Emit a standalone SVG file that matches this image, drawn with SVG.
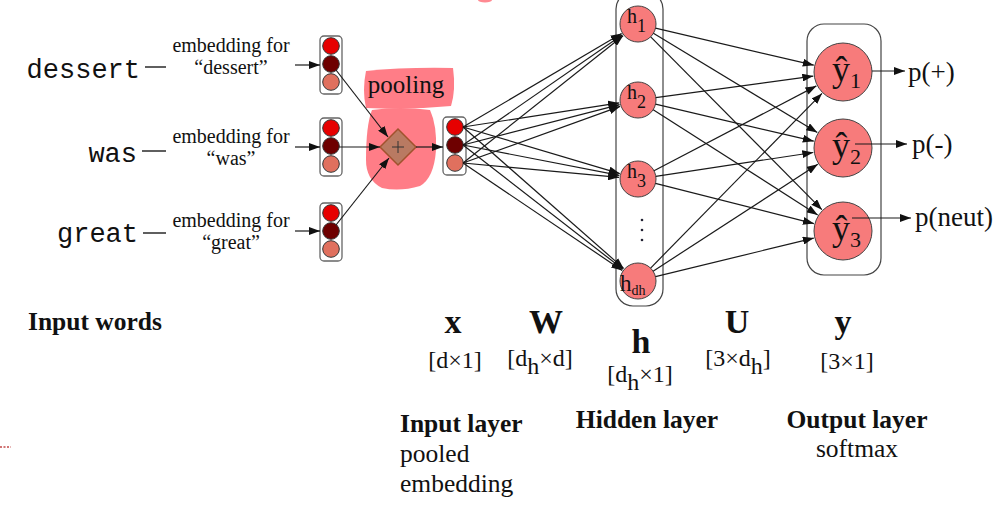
<svg xmlns="http://www.w3.org/2000/svg" width="1005" height="527" viewBox="0 0 1005 527">
  <style>
    .mono { font-family: "Liberation Mono", "Courier New", monospace; font-size: 27px; fill: #111; }
    .serif { font-family: "Liberation Serif", "Times New Roman", serif; fill: #111; }
    .small { font-size: 20px; }
    .big { font-size: 34px; font-weight: bold; }
    .dim { font-size: 24px; }
    .head { font-size: 25.5px; font-weight: bold; }
    .body { font-size: 25.5px; }
    .vbox { fill: #fff; stroke: #666; stroke-width: 1.3; }
    .c1 { fill: #e60000; stroke: #333; stroke-width: 1; }
    .c2 { fill: #6e0000; stroke: #333; stroke-width: 1; }
    .c3 { fill: #e0705e; stroke: #333; stroke-width: 1; }
    .node { fill: #f77b7b; stroke: #444; stroke-width: 1; }
    .layer { fill: none; stroke: #444; stroke-width: 1.2; }
    .edge { stroke: #1a1a1a; stroke-width: 1.2; fill: none; marker-end: url(#arrow); }
    .plain { stroke: #1a1a1a; stroke-width: 1.4; }
    .blob { fill: #ff7d87; }
  </style>
  <defs>
    <marker id="arrow" markerUnits="userSpaceOnUse" markerWidth="11" markerHeight="8" refX="11" refY="4" orient="auto">
      <path d="M0,0 L11,4 L0,8 z" fill="#111"/>
    </marker>
  </defs>

  <!-- stray marks -->
  <ellipse cx="485" cy="0" rx="7" ry="2.5" fill="#ff8a92"/>
  <line x1="0" y1="447" x2="11" y2="447" stroke="#c24848" stroke-width="1.4" stroke-dasharray="2,1.5"/>

  <!-- input words -->
  <g id="word-dessert">
    <text class="mono" x="140" y="78" text-anchor="end">dessert</text>
    <line class="plain" x1="145" y1="67" x2="166" y2="67"/>
    <text class="serif small" x="231" y="52" text-anchor="middle">embedding for</text>
    <text class="serif small" x="231" y="74" text-anchor="middle">“dessert”</text>
  </g>
  <g id="word-was">
    <text class="mono" x="137" y="162" text-anchor="end">was</text>
    <line class="plain" x1="142" y1="151" x2="166" y2="151"/>
    <text class="serif small" x="231" y="143" text-anchor="middle">embedding for</text>
    <text class="serif small" x="231" y="165" text-anchor="middle">“was”</text>
  </g>
  <g id="word-great">
    <text class="mono" x="138" y="242" text-anchor="end">great</text>
    <line class="plain" x1="143" y1="233" x2="166" y2="233"/>
    <text class="serif small" x="231" y="227" text-anchor="middle">embedding for</text>
    <text class="serif small" x="231" y="249" text-anchor="middle">“great”</text>
  </g>

  <!-- embedding vectors -->
  <g id="emb-dessert">
    <rect class="vbox" x="320" y="36" width="22" height="58" rx="4"/>
    <circle class="c1" cx="331" cy="46" r="8.3"/>
    <circle class="c2" cx="331" cy="64" r="8.3"/>
    <circle class="c3" cx="331" cy="82" r="8.3"/>
  </g>
  <g id="emb-was">
    <rect class="vbox" x="320" y="118" width="22" height="58" rx="4"/>
    <circle class="c1" cx="331" cy="128" r="8.3"/>
    <circle class="c2" cx="331" cy="146" r="8.3"/>
    <circle class="c3" cx="331" cy="164" r="8.3"/>
  </g>
  <g id="emb-great">
    <rect class="vbox" x="320" y="203" width="22" height="58" rx="4"/>
    <circle class="c1" cx="331" cy="213" r="8.3"/>
    <circle class="c2" cx="331" cy="231" r="8.3"/>
    <circle class="c3" cx="331" cy="249" r="8.3"/>
  </g>

  <!-- pooling highlight and sum node -->
  <g id="pooling">
    <path class="blob" d="M366,71 Q405,67 453,68 Q456,90 451,106 Q410,110 366,108 Q362,90 366,71 Z"/>
    <path class="blob" d="M372,110 Q400,106 430,110 Q437,125 436,150 Q434,178 420,186 Q400,192 382,188 Q366,180 366,160 Q366,125 372,110 Z"/>
    <text class="serif" x="406" y="93" font-size="25" text-anchor="middle">pooling</text>
    <polygon points="380,147 398,129 416,147 398,165" fill="#b97a62" stroke="#a0522d" stroke-width="1.5"/>
    <line x1="392" y1="147" x2="404" y2="147" stroke="#333" stroke-width="1"/>
    <line x1="398" y1="141" x2="398" y2="153" stroke="#333" stroke-width="1"/>
  </g>

  <!-- pooled input vector -->
  <g id="input-x">
    <rect class="vbox" x="443" y="117" width="23" height="58" rx="4"/>
    <circle class="c1" cx="455" cy="127" r="8.3"/>
    <circle class="c2" cx="455" cy="145" r="8.3"/>
    <circle class="c3" cx="455" cy="163" r="8.3"/>
  </g>

  <!-- hidden layer -->
  <g id="hidden">
    <rect class="layer" x="616" y="-8" width="47" height="314" rx="17"/>
    <g id="h1">
      <circle class="node" cx="638" cy="24" r="18"/>
      <text class="serif" x="627" y="23" font-size="20">h<tspan font-size="18" dy="9">1</tspan></text>
    </g>
    <g id="h2">
      <circle class="node" cx="638" cy="100" r="18"/>
      <text class="serif" x="627" y="99" font-size="20">h<tspan font-size="18" dy="9">2</tspan></text>
    </g>
    <g id="h3">
      <circle class="node" cx="638" cy="179" r="18"/>
      <text class="serif" x="627" y="178" font-size="20">h<tspan font-size="18" dy="9">3</tspan></text>
    </g>
    <g id="ellipsis">
      <circle cx="642" cy="220" r="1.3" fill="#223"/>
      <circle cx="642" cy="230" r="1.3" fill="#223"/>
      <circle cx="642" cy="240" r="1.3" fill="#223"/>
    </g>
    <g id="hdh">
      <circle class="node" cx="638" cy="281" r="18"/>
      <text class="serif" x="620" y="291" font-size="23">h<tspan font-size="14" dy="4">dh</tspan></text>
    </g>
  </g>

  <!-- output layer -->
  <g id="output">
    <rect class="layer" x="807" y="24" width="74" height="251" rx="17"/>
    <g id="y1">
      <circle class="node" cx="843" cy="72" r="29"/>
      <text class="serif" x="832" y="81" font-size="36">ŷ<tspan font-size="22" dy="7">1</tspan></text>
    </g>
    <g id="y2">
      <circle class="node" cx="843" cy="148" r="29"/>
      <text class="serif" x="832" y="157" font-size="36">ŷ<tspan font-size="22" dy="7">2</tspan></text>
    </g>
    <g id="y3">
      <circle class="node" cx="843" cy="231" r="29"/>
      <text class="serif" x="832" y="240" font-size="36">ŷ<tspan font-size="22" dy="7">3</tspan></text>
    </g>
    <text class="serif" x="908" y="81" font-size="27">p(+)</text>
    <text class="serif" x="912" y="153" font-size="27">p(-)</text>
    <text class="serif" x="915" y="226" font-size="27">p(neut)</text>
  </g>

  <!-- labels -->
  <g id="labels">
    <text class="serif head" x="28" y="330">Input words</text>
    <text class="serif big" x="453" y="333" text-anchor="middle">x</text>
    <text class="serif dim" x="455" y="368" text-anchor="middle">[d×1]</text>
    <text class="serif big" x="546" y="333" text-anchor="middle">W</text>
    <text class="serif dim" x="540" y="366" text-anchor="middle">[d<tspan dy="8">h</tspan><tspan dy="-8">×d]</tspan></text>
    <text class="serif big" x="641" y="353" text-anchor="middle">h</text>
    <text class="serif dim" x="640" y="382" text-anchor="middle">[d<tspan dy="8">h</tspan><tspan dy="-8">×1]</tspan></text>
    <text class="serif big" x="737" y="333" text-anchor="middle">U</text>
    <text class="serif dim" x="738" y="366" text-anchor="middle">[3×d<tspan dy="8">h</tspan><tspan dy="-8">]</tspan></text>
    <text class="serif big" x="843" y="333" text-anchor="middle">y</text>
    <text class="serif dim" x="847" y="369" text-anchor="middle">[3×1]</text>
    <text class="serif head" x="400" y="432">Input layer</text>
    <text class="serif body" x="400" y="462">pooled</text>
    <text class="serif body" x="400" y="492">embedding</text>
    <text class="serif head" x="647" y="428" text-anchor="middle">Hidden layer</text>
    <text class="serif head" x="857" y="428" text-anchor="middle">Output layer</text>
    <text class="serif body" x="857" y="457" text-anchor="middle">softmax</text>
  </g>

  <!-- connectors -->
  <g id="connectors">
    <line class="edge" x1="295" y1="65" x2="320" y2="65"/>
    <line class="edge" x1="295" y1="147" x2="320" y2="147"/>
    <line class="edge" x1="295" y1="231" x2="320" y2="231"/>

    <line class="edge" x1="336" y1="70" x2="388" y2="137"/>
    <line class="edge" x1="339" y1="147" x2="380" y2="147"/>
    <line class="edge" x1="336" y1="225" x2="389" y2="158"/>
    <line class="edge" x1="416" y1="147" x2="443" y2="147"/>

    <line class="edge" x1="463" y1="127" x2="621.6" y2="33.6"/>
    <line class="edge" x1="463" y1="127" x2="619.2" y2="102.9"/>
    <line class="edge" x1="463" y1="127" x2="619.8" y2="173.6"/>
    <line class="edge" x1="463" y1="127" x2="623.7" y2="268.4"/>
    <line class="edge" x1="463" y1="145" x2="622.4" y2="34.8"/>
    <line class="edge" x1="463" y1="145" x2="619.6" y2="104.7"/>
    <line class="edge" x1="463" y1="145" x2="619.4" y2="175.4"/>
    <line class="edge" x1="463" y1="145" x2="623" y2="269.3"/>
    <line class="edge" x1="463" y1="163" x2="623.1" y2="35.8"/>
    <line class="edge" x1="463" y1="163" x2="620.1" y2="106.4"/>
    <line class="edge" x1="463" y1="163" x2="619.1" y2="177.3"/>
    <line class="edge" x1="463" y1="163" x2="622.2" y2="270.4"/>

    <line class="edge" x1="655.5" y1="28.1" x2="813.8" y2="65.2"/>
    <line class="edge" x1="653.4" y1="33.3" x2="817.3" y2="132.5"/>
    <line class="edge" x1="650.7" y1="36.8" x2="821.9" y2="209.7"/>
    <line class="edge" x1="655.8" y1="97.6" x2="813.3" y2="76.1"/>
    <line class="edge" x1="655.5" y1="104.1" x2="813.8" y2="141.2"/>
    <line class="edge" x1="653.2" y1="109.7" x2="817.7" y2="214.9"/>
    <line class="edge" x1="654" y1="170.7" x2="816.4" y2="85.9"/>
    <line class="edge" x1="655.8" y1="176.3" x2="813.3" y2="152.5"/>
    <line class="edge" x1="655.4" y1="183.4" x2="813.9" y2="223.6"/>
    <line class="edge" x1="650.6" y1="268.1" x2="822" y2="93.4"/>
    <line class="edge" x1="653.1" y1="271.2" x2="817.8" y2="164.3"/>
    <line class="edge" x1="655.5" y1="276.7" x2="813.8" y2="238.1"/>

    <line class="edge" x1="872" y1="71" x2="905" y2="71"/>
    <line class="edge" x1="855" y1="144" x2="907" y2="144"/>
    <line class="edge" x1="852" y1="218" x2="911" y2="218"/>
  </g>
</svg>
